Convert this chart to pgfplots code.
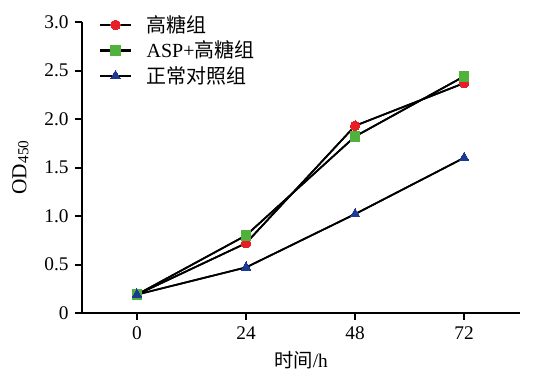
\documentclass[border=0pt]{standalone}
\usepackage{pgfplots}
\pgfplotsset{compat=1.18}
\usepackage{fontspec}
\setmainfont{Liberation Serif}
\newfontfamily\cjk{Noto Sans CJK SC}
\definecolor{cred}{RGB}{232,30,38}
\definecolor{cgreen}{RGB}{80,178,60}
\definecolor{cblue}{RGB}{28,58,148}
\begin{document}
\begin{tikzpicture}
\begin{axis}[
  scale only axis,
  width=328.5pt, height=218.25pt,
  xmin=-12.1, xmax=84.3,
  ymin=0, ymax=3,
  axis lines=left,
  axis line style={-, line width=1.5pt},
  xtick={0,24,48,72},
  ytick={0,0.5,1,1.5,2,2.5,3},
  yticklabels={0,0.5,1.0,1.5,2.0,2.5,3.0},
  tick align=outside,
  major tick length=5pt,
  tick style={line width=1.5pt, black},
  tick label style={font=\fontsize{14.5}{16}\selectfont},
  yticklabel style={xshift=-1.5pt},
  xticklabel style={yshift=-1.5pt},
  /pgf/number format/assume math mode=true,
  xlabel={{\cjk 时间}/h},
  ylabel={OD{\fontsize{11.5}{12}\selectfont\raisebox{-1.5pt}{450}}},
  xlabel style={font=\fontsize{14.5}{16}\selectfont, yshift=-2pt},
  ylabel style={font=\fontsize{16}{17}\selectfont, yshift=5pt},
  legend cell align=left,
  legend style={draw=none, fill=none, at={(0.037,1.035)}, anchor=north west,
    font=\fontsize{15}{17}\selectfont, row sep=0pt, inner sep=0pt,
    nodes={inner sep=2.5pt},
    /tikz/every odd column/.append style={column sep=8pt}},
  legend image post style={line width=1.7pt},
  legend image code/.code={
    \draw[mark repeat=2,mark phase=2] plot coordinates {(0cm,0cm) (0.42cm,0cm) (0.84cm,0cm)};},
  every axis plot/.append style={line width=1.3pt},
  clip=false,
]
\addplot[black, mark=*, mark size=3.6pt, mark options={fill=cred, draw=cred, line width=0pt}]
  coordinates {(0,0.19) (24,0.72) (48,1.93) (72,2.37)};
\addlegendentry{\cjk 高糖组}
\addplot[black, mark=square*, mark size=3.6pt, mark options={fill=cgreen, draw=cgreen, line width=0pt}]
  coordinates {(0,0.19) (24,0.80) (48,1.82) (72,2.44)};
\addlegendentry{ASP+{\cjk 高糖组}}
\addplot[black, mark=triangle*, mark size=4.2pt, mark options={fill=cblue, draw=cblue, line width=0pt}]
  coordinates {(0,0.19) (24,0.47) (48,1.02) (72,1.60)};
\addlegendentry{\cjk 正常对照组}
\addplot[black, forget plot] coordinates {(0,0.19) (24,0.72) (48,1.93) (72,2.37)};
\addplot[black, forget plot] coordinates {(0,0.19) (24,0.80) (48,1.82) (72,2.44)};
\addplot[black, forget plot] coordinates {(0,0.19) (24,0.47) (48,1.02) (72,1.60)};
\end{axis}
\pgfresetboundingbox
\path[use as bounding box] ([shift={(-61.5pt,-47.25pt)}]current axis.south west) rectangle ([shift={(357.75pt,234.75pt)}]current axis.south west);
\end{tikzpicture}
\end{document}
